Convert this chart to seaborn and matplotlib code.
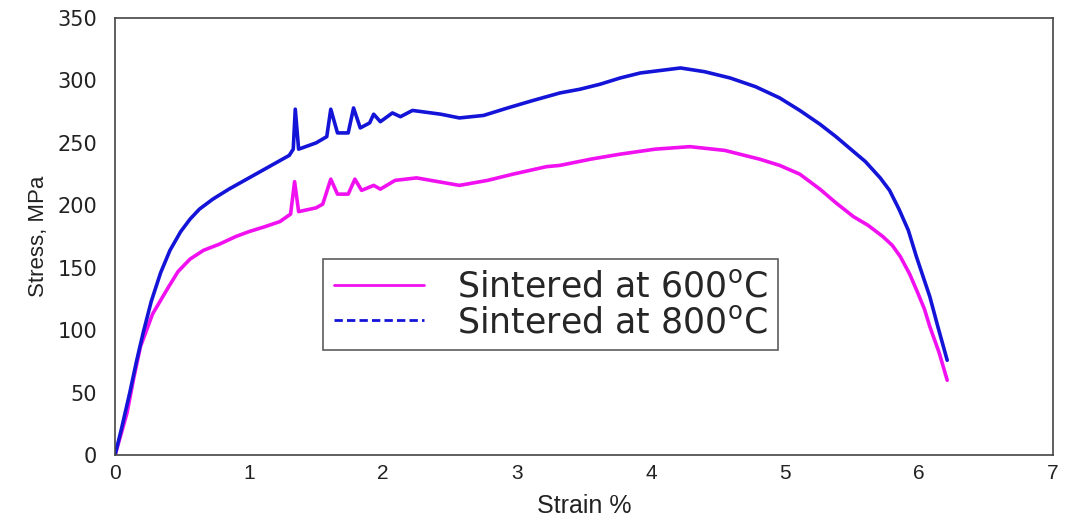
import numpy as np
import pandas as pd
import matplotlib
matplotlib.use("Agg")
import matplotlib.pyplot as plt
import seaborn as sns
from matplotlib.lines import Line2D

# ---------------------------
# DATA
# ---------------------------
strain_600 = [0, 0.04, 0.09, 0.14, 0.19, 0.28, 0.39, 0.47, 0.56, 0.66, 0.78, 0.9, 1.0,
              1.12, 1.23, 1.31, 1.34, 1.37, 1.5, 1.55,
              1.61, 1.66, 1.74, 1.79, 1.84, 1.93, 1.98, 2.09, 2.25, 2.57, 2.78, 2.97,
              3.22, 3.32, 3.55, 3.77, 4.03, 4.29, 4.55, 4.81, 4.96, 5.11, 5.26, 5.38,
              5.51, 5.62, 5.73, 5.80, 5.86, 5.93, 5.99, 6.04, 6.08, 6.15, 6.21]
stress_600 = [0, 15, 34, 62, 87, 113, 133, 147, 157, 164, 169, 175, 179,
              183, 187, 193, 219, 195, 198, 201,
              221, 209, 209, 221, 212, 216, 213, 220, 222, 216, 220, 225,
              231, 232, 237, 241, 245, 247, 244, 237, 232, 225, 213, 202,
              191, 184, 175, 168, 159, 145, 130, 117, 103, 82, 60]

strain_800 = [0, 0.05, 0.11, 0.16, 0.21, 0.27, 0.34, 0.41, 0.49, 0.56, 0.63, 0.73, 0.85,
              1.0, 1.15, 1.3, 1.33, 1.345, 1.37, 1.5,
              1.58, 1.61, 1.66, 1.74, 1.78, 1.83, 1.9, 1.93, 1.98, 2.07, 2.13, 2.22,
              2.43, 2.57, 2.75, 2.93, 3.12, 3.32, 3.47, 3.62, 3.77, 3.92, 4.07, 4.22,
              4.4, 4.59, 4.78, 4.96, 5.11, 5.26, 5.38, 5.49, 5.6, 5.71, 5.78, 5.85,
              5.92, 5.98, 6.03, 6.08, 6.14, 6.21]
stress_800 = [0, 22, 50, 75, 98, 123, 146, 164, 179, 189, 197, 205, 213,
              222, 231, 240, 245, 277, 245, 250,
              255, 277, 258, 258, 278, 262, 266, 273, 267, 274, 271, 276,
              273, 270, 272, 278, 284, 290, 293, 297, 302, 306, 308, 310,
              307, 302, 295, 286, 276, 265, 255, 245, 235, 222, 212, 197,
              180, 159, 143, 127, 103, 76]

labels = ["Sintered at 600$^{\\rm o}$C", "Sintered at 800$^{\\rm o}$C"]
colors = ["#f010f0", "#1414d8"]

x_ticks = [0, 1, 2, 3, 4, 5, 6, 7]
y_ticks = [0, 50, 100, 150, 200, 250, 300, 350]

# ---------------------------
# PLOT
# ---------------------------
sns.set_style("white")
plt.rcParams["font.family"] = ["Liberation Sans", "DejaVu Sans"]
plt.rcParams["mathtext.fontset"] = "custom"
plt.rcParams["mathtext.rm"] = "DejaVu Sans"

fig = plt.figure(figsize=(10.69, 5.22), dpi=100)
ax = fig.add_axes([0.1076, 0.128, 0.8775, 0.8375])

sns.lineplot(x=strain_600, y=stress_600, ax=ax, color=colors[0], linewidth=2.6,
             sort=False, estimator=None)
sns.lineplot(x=strain_800, y=stress_800, ax=ax, color=colors[1], linewidth=2.6,
             sort=False, estimator=None)

ax.set_xlim(0, 7)
ax.set_ylim(0, 350)
ax.set_xticks(x_ticks)
ax.set_yticks(y_ticks)
ax.tick_params(direction="in", length=6, width=1, colors="#333333",
               labelcolor="#222222", top=False, right=False)
ax.tick_params(axis="y", labelsize=15, pad=13)
ax.tick_params(axis="x", labelsize=15, pad=6)
for lab in ax.get_yticklabels():
    lab.set_family("DejaVu Sans")
for s in ax.spines.values():
    s.set_color("#444444")
    s.set_linewidth(1.2)

ax.set_xlabel("Strain %", fontsize=18, color="#222222", labelpad=8)
ax.set_ylabel("Stress, MPa", fontsize=16, color="#222222", labelpad=6)

handles = [Line2D([], [], color=colors[0], lw=2, ls="-"),
           Line2D([], [], color=colors[1], lw=2, ls=(0, (3, 1.5)))]
leg = ax.legend(handles, labels, loc="lower left", bbox_to_anchor=(0.222, 0.241),
                borderaxespad=0, handlelength=2.6, handletextpad=0.95,
                prop={"family": "DejaVu Sans", "size": 25},
                frameon=True, fancybox=False, edgecolor="#333333",
                borderpad=0.3, labelspacing=0.05)
leg.get_frame().set_linewidth(1.2)

fig.savefig("out.png", dpi=100, facecolor="white")
